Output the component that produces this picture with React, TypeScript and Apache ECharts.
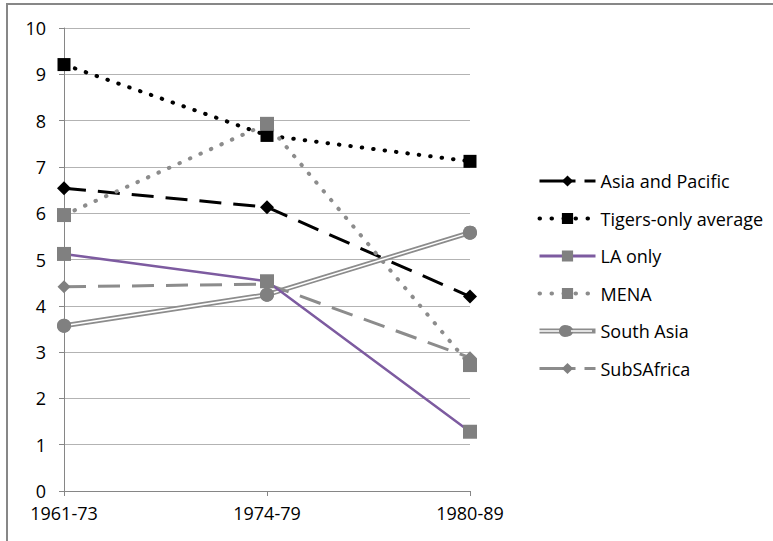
import React, { useEffect, useRef } from "react";
import * as echarts from "echarts";

const categories = ["1961-73", "1974-79", "1980-89"];
const asiaPacific = [6.54, 6.13, 4.2];
const tigers = [9.21, 7.68, 7.12];
const laOnly = [5.12, 4.53, 1.28];
const mena = [5.96, 7.93, 2.72];
const southAsia = [3.57, 4.24, 5.58];
const subSAfrica = [4.41, 4.47, 2.88];
const seriesNames = ["Asia and Pacific", "Tigers-only average", "LA only", "MENA", "South Asia", "SubSAfrica"];

const FONT = "Open Sans";
const GRAY = "#808080";
const LGRAY = "#8c8c8c";
const PURPLE = "#7d5ba0";

export default function App() {
  const ref = useRef<HTMLDivElement>(null);
  useEffect(() => {
    if (!ref.current) return;
    const chart = echarts.init(ref.current, null, { renderer: "svg" });
    const legendLeft = 537;
    const legendTop = 172;
    const itemW = 56;
    const itemH = 14;
    const fs = 18;
    const gap = 37.5 - fs;
    const saY = legendTop + 4 * 37.5 + fs / 2;
    const legendStyles: any = {
      "Asia and Pacific": { lineStyle: { color: "#000", width: 3, type: [36, 9, 12, 8] } },
      "Tigers-only average": { lineStyle: { color: "#000", width: 4, type: [0.5, 11.5], cap: "round" } },
      "LA only": { lineStyle: { color: PURPLE, width: 3, type: "solid" } },
      "MENA": { lineStyle: { color: LGRAY, width: 4, type: [0.5, 11.5], cap: "round" } },
      "South Asia": { lineStyle: { color: LGRAY, width: 5, type: "solid" } },
      "SubSAfrica": { lineStyle: { color: LGRAY, width: 3, type: [36, 9, 12, 8] } },
    };
    chart.setOption({
      animation: false,
      backgroundColor: "#ffffff",
      textStyle: { fontFamily: FONT },
      grid: { left: 64, right: 303, top: 28, bottom: 50, containLabel: false },
      xAxis: {
        type: "category",
        data: categories,
        boundaryGap: false,
        axisLine: { lineStyle: { color: "#868686", width: 1 } },
        axisTick: { show: true, length: 5, inside: false, lineStyle: { color: "#868686" }, alignWithLabel: true },
        axisLabel: { color: "#000", fontSize: fs, fontFamily: FONT, margin: 13 },
        splitLine: { show: false },
      },
      yAxis: {
        type: "value",
        min: 0,
        max: 10,
        interval: 1,
        axisLine: { show: true, lineStyle: { color: "#868686", width: 1 } },
        axisTick: { show: true, length: 5, lineStyle: { color: "#868686" } },
        axisLabel: { color: "#000", fontSize: fs, fontFamily: FONT, margin: 18 },
        splitLine: { show: true, lineStyle: { color: "#b3b3b3", width: 1 } },
      },
      legend: {
        orient: "vertical",
        left: legendLeft,
        top: legendTop,
        padding: 0,
        itemWidth: itemW,
        itemHeight: itemH,
        itemGap: gap,
        data: seriesNames.map((n) => ({ name: n, ...legendStyles[n] })),
        textStyle: { fontSize: fs, color: "#000", fontFamily: FONT },
        selectedMode: false,
      },
      graphic: [
        {
          type: "rect",
          shape: { x: 7, y: 4, width: 800, height: 600 },
          style: { fill: "none", stroke: "#878787", lineWidth: 2 },
          silent: true,
        },
        {
          type: "line",
          shape: { x1: legendLeft + 1, y1: saY, x2: legendLeft + itemW - 1, y2: saY },
          style: { stroke: "#ffffff", lineWidth: 1.5 },
          z: 100,
          silent: true,
        },
        {
          type: "circle",
          shape: { cx: legendLeft + itemW / 2, cy: saY, r: 6 },
          style: { fill: GRAY },
          z: 101,
          silent: true,
        },
      ],
      series: [
        {
          name: "Asia and Pacific",
          type: "line",
          data: asiaPacific,
          symbol: "diamond",
          symbolSize: 14,
          itemStyle: { color: "#000" },
          lineStyle: { color: "#000", width: 3, type: [22, 12] },
        },
        {
          name: "Tigers-only average",
          type: "line",
          data: tigers,
          symbol: "rect",
          symbolSize: 13,
          itemStyle: { color: "#000" },
          lineStyle: { color: "#000", width: 4, type: [0.5, 11], cap: "round" },
        },
        {
          name: "MENA",
          type: "line",
          data: mena,
          symbol: "rect",
          symbolSize: 14,
          itemStyle: { color: GRAY },
          lineStyle: { color: LGRAY, width: 4, type: [0.5, 11], cap: "round" },
        },
        {
          name: "South Asia",
          type: "line",
          data: southAsia,
          symbol: "circle",
          symbolSize: 14,
          itemStyle: { color: GRAY },
          lineStyle: { color: LGRAY, width: 5 },
        },
        {
          name: "South Asia inner",
          type: "line",
          data: southAsia,
          symbol: "circle",
          symbolSize: 14,
          itemStyle: { color: GRAY },
          lineStyle: { color: "#ffffff", width: 1.5 },
          silent: true,
        },
        {
          name: "SubSAfrica",
          type: "line",
          data: subSAfrica,
          symbol: "diamond",
          symbolSize: 13,
          itemStyle: { color: GRAY },
          lineStyle: { color: LGRAY, width: 3, type: [22, 12] },
        },
        {
          name: "LA only",
          type: "line",
          data: laOnly,
          symbol: "rect",
          symbolSize: 14,
          itemStyle: { color: GRAY },
          lineStyle: { color: PURPLE, width: 2.5 },
        },
      ],
    });
    return () => chart.dispose();
  }, []);
  return (
    <div
      ref={ref}
      style={{ position: "fixed", left: 0, top: 0, width: 773, height: 541, background: "#fff" }}
    />
  );
}
